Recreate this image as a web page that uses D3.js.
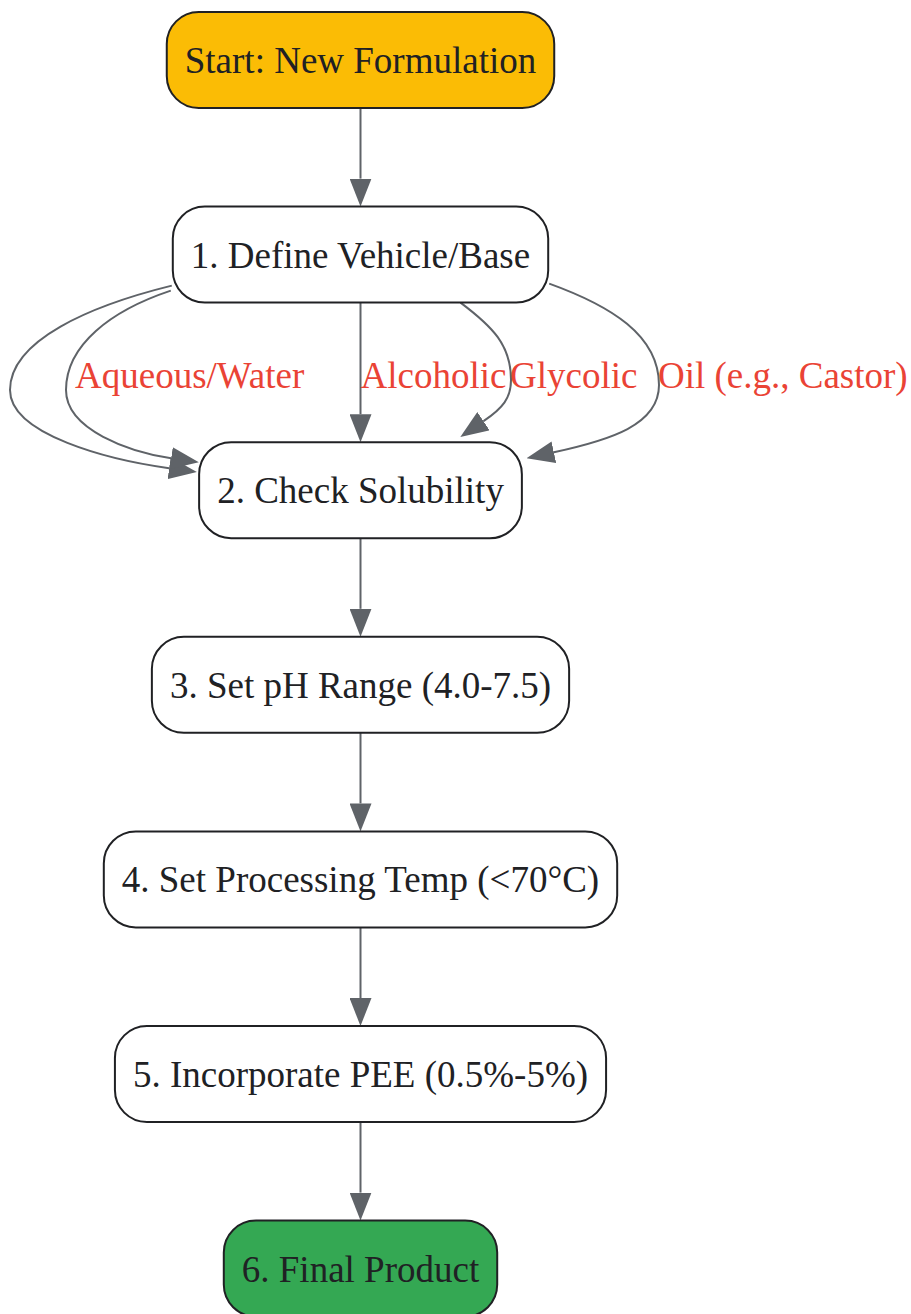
<!DOCTYPE html>
<html>
<head>
<meta charset="utf-8">
<script src="https://cdn.jsdelivr.net/npm/d3@7"></script>
<style>
  body { margin: 0; background: #fff; }
  svg { display: block; }
</style>
</head>
<body>
<svg id="chart" width="911" height="1314"></svg>
<script>
// node labels, top to bottom
var nodeLabels = ["Start: New Formulation", "1. Define Vehicle/Base", "2. Check Solubility",
  "3. Set pH Range (4.0-7.5)", "4. Set Processing Temp (<70°C)",
  "5. Incorporate PEE (0.5%-5%)", "6. Final Product"];
var nodeFills = ["#fbbc05", "#fff", "#fff", "#fff", "#fff", "#fff", "#34a853"];
// plain chain edges (source index -> target index)
var chainFrom = [0, 2, 3, 4, 5];
var chainTo   = [1, 3, 4, 5, 6];
// branch edges from step 1 to step 2
var branchLabels = ["", "Aqueous/Water", "Alcoholic", "Glycolic", "Oil (e.g., Castor)"];

var svg = d3.select("#chart");
var fontSize = 37, nodeH = 96, padX = 18, cx = 360.5;
var edgeColor = "#5f6368", labelColor = "#ea4335", inkColor = "#202124";
var serif = "'Liberation Serif', 'Times New Roman', serif";

// vertical placement: one rank per step, the labelled rank gets extra room
var rank = d3.scaleLinear().domain([0, 6]).range([60, 60 + 194.6 * 6]);
function yPos(i) { return rank(i) + (i >= 2 ? 41 : 0); }

// measure text widths
var meas = svg.append("text").attr("font-family", serif).attr("font-size", fontSize);
var nodes = nodeLabels.map(function(t, i) {
  meas.text(t);
  var w = meas.node().getComputedTextLength() + padX * 2;
  return {label: t, fill: nodeFills[i], x0: cx - w / 2, x1: cx + w / 2, y: yPos(i),
          top: yPos(i) - nodeH / 2, bottom: yPos(i) + nodeH / 2};
});
meas.remove();

var defs = svg.append("defs");
defs.append("marker")
  .attr("id", "arrow")
  .attr("viewBox", "0 0 28 22")
  .attr("refX", 0).attr("refY", 11)
  .attr("markerWidth", 28).attr("markerHeight", 22)
  .attr("markerUnits", "userSpaceOnUse")
  .attr("orient", "auto")
  .append("path").attr("d", "M0,0L28,11L0,22Z").attr("fill", edgeColor);

var gEdges = svg.append("g"), gNodes = svg.append("g"), gLabels = svg.append("g");

// straight chain edges
chainFrom.forEach(function(s, k) {
  var a = nodes[s], b = nodes[chainTo[k]];
  gEdges.append("path")
    .attr("d", d3.line()([[cx, a.bottom], [cx, b.top - 28]]))
    .attr("fill", "none").attr("stroke", edgeColor).attr("stroke-width", 2)
    .attr("marker-end", "url(#arrow)");
});

// branch edges 1 -> 2, each bent out to one side
var n1 = nodes[1], n2 = nodes[2];
var branchGeom = [
  {s: [n1.x0 - 1, n1.bottom - 17], c1: [n1.x0 - 82, n1.bottom + 3], ex: 10, ey: 390, k1: 50, k2: 45, c2: [110, 460], e: [n2.x0 - 30, n2.top + 26]},
  {s: [n1.x0 - 2, n1.bottom - 12], c1: [n1.x0 - 62, n1.bottom + 8], ex: 66, ey: 390, k1: 45, k2: 40, c2: [130, 452], e: [n2.x0 - 28, n2.top + 16]},
  null,
  {s: [cx + 100, n1.bottom], c1: [cx + 132, n1.bottom + 24], ex: 511, ey: 380, k1: 35, k2: 18, c2: [503, 408], e: [cx + 123, n2.top - 21]},
  {s: [n1.x1 + 1, n1.bottom - 19], c1: [n1.x1 + 62, n1.bottom + 3], ex: 659, ey: 385, k1: 50, k2: 40, c2: [610, 440], e: [n2.x1 + 32, n2.top + 10]}
];

branchLabels.forEach(function(lab, i) {
  var gm = branchGeom[i], lx, d;
  if (gm === null) {
    d = d3.line()([[cx, n1.bottom], [cx, n2.top - 28]]);
    lx = cx;
  } else {
    var p = d3.path();
    p.moveTo(gm.s[0], gm.s[1]);
    p.bezierCurveTo(gm.c1[0], gm.c1[1], gm.ex, gm.ey - gm.k1, gm.ex, gm.ey);
    p.bezierCurveTo(gm.ex, gm.ey + gm.k2, gm.c2[0], gm.c2[1], gm.e[0], gm.e[1]);
    d = p.toString();
    lx = gm.ex + (i === 1 ? 9 : -1);
  }
  gEdges.append("path")
    .attr("d", d)
    .attr("fill", "none").attr("stroke", edgeColor).attr("stroke-width", 2)
    .attr("marker-end", "url(#arrow)");
  if (lab) {
    gLabels.append("text")
      .attr("x", lx).attr("y", 375).attr("dy", "0.35em")
      .attr("font-family", serif)
      .attr("font-size", fontSize).attr("fill", labelColor)
      .text(lab);
  }
});

// nodes
var ng = gNodes.selectAll("g").data(nodes).enter().append("g");
ng.append("rect")
  .attr("x", function(d) { return d.x0; })
  .attr("y", function(d) { return d.top; })
  .attr("width", function(d) { return d.x1 - d.x0; })
  .attr("height", nodeH)
  .attr("rx", 32).attr("ry", 32)
  .attr("fill", function(d) { return d.fill; })
  .attr("stroke", inkColor).attr("stroke-width", 2);
ng.append("text")
  .attr("x", cx).attr("y", function(d) { return d.y; }).attr("dy", "0.35em")
  .attr("text-anchor", "middle")
  .attr("font-family", serif)
  .attr("font-size", fontSize).attr("fill", inkColor)
  .text(function(d) { return d.label; });
</script>
</body>
</html>
